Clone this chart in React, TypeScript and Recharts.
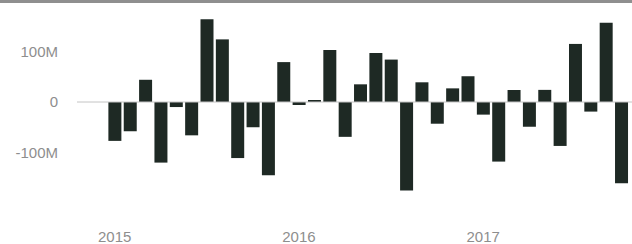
import { Bar, BarChart, ReferenceLine, XAxis, YAxis } from "recharts";

// monthly values, millions, Jan 2015 .. Oct 2017
const months = [
  "2015-01", "2015-02", "2015-03", "2015-04", "2015-05", "2015-06",
  "2015-07", "2015-08", "2015-09", "2015-10", "2015-11", "2015-12",
  "2016-01", "2016-02", "2016-03", "2016-04", "2016-05", "2016-06",
  "2016-07", "2016-08", "2016-09", "2016-10", "2016-11", "2016-12",
  "2017-01", "2017-02", "2017-03", "2017-04", "2017-05", "2017-06",
  "2017-07", "2017-08", "2017-09", "2017-10",
];

const values = [
  -77, -58, 44, -120, -10, -66, 164, 124, -111, -50, -145, 79,
  -6, 4, 103, -69, 35, 97, 84, -175, 39, -43, 27, 51,
  -25, -118, 24, -49, 24, -87, 115, -19, 157, -161,
];

const yTicks = [-100, 0, 100];

const data = months.map((month, i) => ({ month, value: values[i] }));

const tickStyle = { fill: "#8e8e8e", fontSize: 15, fontFamily: "Liberation Sans, Arial, sans-serif" };

export default function App() {
  return (
    <div style={{ position: "absolute", left: 0, top: 0, width: 632, height: 244, background: "#fff" }}>
      <div style={{ position: "absolute", left: 0, top: 0, width: 632, height: 3, background: "#8f8f8f" }} />
      <BarChart
        width={632}
        height={244}
        data={data}
        margin={{ top: 1, right: 0, left: 0, bottom: 0 }}
        barCategoryGap="9%"
      >
        <XAxis
          dataKey="month"
          interval={11}
          height={41}
          tickLine={false}
          axisLine={false}
          tickSize={0}
          tickMargin={28}
          padding={{ left: 30, right: 3 }}
          tick={tickStyle}
          tickFormatter={(m: string) => m.slice(0, 4)}
        />
        <YAxis
          width={77}
          domain={[-200, 200]}
          ticks={yTicks}
          tickLine={false}
          axisLine={false}
          tickSize={0}
          tickMargin={19}
          tick={tickStyle}
          tickFormatter={(v: number) => (v === 0 ? "0" : `${v}M`)}
        />
        <ReferenceLine y={0} stroke="#c4c4c4" strokeWidth={1} />
        <Bar dataKey="value" fill="#1e2924" isAnimationActive={false} />
      </BarChart>
    </div>
  );
}
